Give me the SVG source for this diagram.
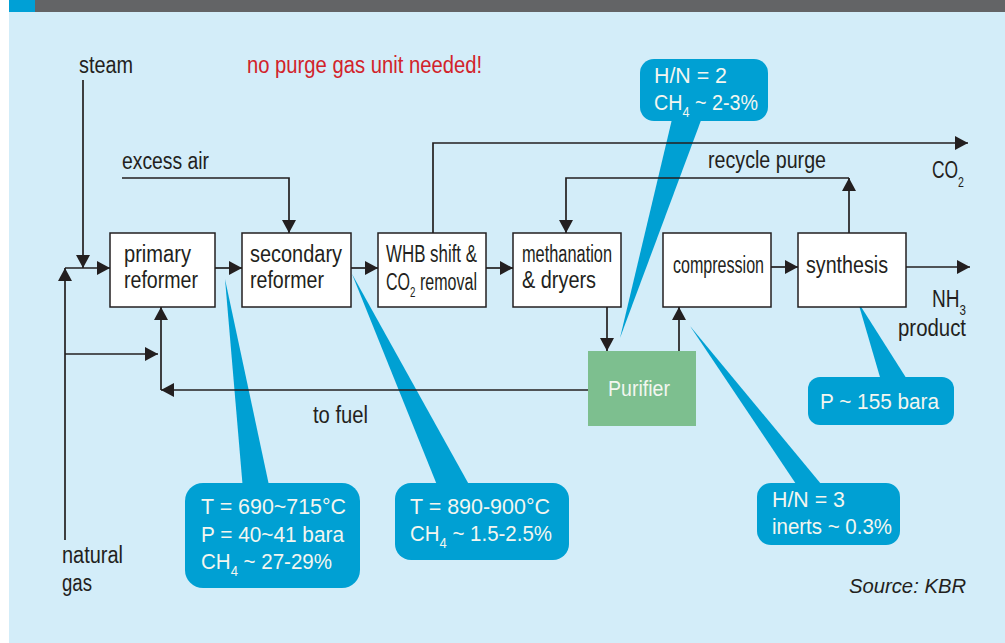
<svg xmlns="http://www.w3.org/2000/svg" width="1005" height="643" viewBox="0 0 1005 643">
<defs>
<style>
.lbl{font-family:"Liberation Sans",Arial,sans-serif;font-size:23px;fill:#231f20}
.box{fill:#ffffff;stroke:#231f20;stroke-width:1.5}
.co{fill:#00a0d3}
.ct{font-family:"Liberation Sans",Arial,sans-serif;font-size:22px;fill:#f3f6f0}
.sub{font-size:14px}
.edge{fill:none;stroke:#231f20;stroke-width:1.7;marker-end:url(#ah)}
</style>
<marker id="ah" markerUnits="userSpaceOnUse" markerWidth="14" markerHeight="14" refX="13" refY="7" orient="auto">
<path d="M0,0 L13,7 L0,14 z" fill="#231f20"/>
</marker>
</defs>

<g id="background">
<rect x="0" y="0" width="1005" height="643" fill="#ffffff"/>
<rect x="9" y="0" width="996" height="643" fill="#d3edf9"/>
<rect x="35" y="0" width="970" height="12" fill="#636466"/>
<rect x="9" y="0" width="26" height="12" fill="#00a0d6"/>
</g>

<g id="callouts">
<g id="callout-hn2">
<polygon class="co" points="673,115 703,115 620,338"/>
<rect class="co" x="640" y="59" width="128" height="62" rx="14"/>
<text class="ct" x="654" y="83" textLength="73" lengthAdjust="spacingAndGlyphs">H/N = 2</text>
<text class="ct" x="654" y="110" textLength="104" lengthAdjust="spacingAndGlyphs">CH<tspan class="sub" dy="7">4</tspan><tspan dy="-7"> ~ 2-3%</tspan></text>
</g>
<g id="callout-primary">
<polygon class="co" points="243,490 270,490 225,279"/>
<rect class="co" x="185" y="483" width="175" height="105" rx="18"/>
<text class="ct" x="201" y="514" textLength="145" lengthAdjust="spacingAndGlyphs">T = 690~715°C</text>
<text class="ct" x="201" y="542" textLength="143" lengthAdjust="spacingAndGlyphs">P = 40~41 bara</text>
<text class="ct" x="201" y="569" textLength="131" lengthAdjust="spacingAndGlyphs">CH<tspan class="sub" dy="7">4</tspan><tspan dy="-7"> ~ 27-29%</tspan></text>
</g>
<g id="callout-secondary">
<polygon class="co" points="439,490 472,490 352,274"/>
<rect class="co" x="395" y="483" width="174" height="77" rx="16"/>
<text class="ct" x="410" y="514" textLength="140" lengthAdjust="spacingAndGlyphs">T = 890-900°C</text>
<text class="ct" x="410" y="541" textLength="142" lengthAdjust="spacingAndGlyphs">CH<tspan class="sub" dy="7">4</tspan><tspan dy="-7"> ~ 1.5-2.5%</tspan></text>
</g>
<g id="callout-hn3">
<polygon class="co" points="800,490 826,490 690,326"/>
<rect class="co" x="757" y="483" width="143" height="62" rx="14"/>
<text class="ct" x="772" y="507" textLength="73" lengthAdjust="spacingAndGlyphs">H/N = 3</text>
<text class="ct" x="772" y="534" textLength="120" lengthAdjust="spacingAndGlyphs">inerts ~ 0.3%</text>
</g>
<g id="callout-synthesis">
<polygon class="co" points="882,384 910,384 858,302"/>
<rect class="co" x="808" y="377" width="146" height="48" rx="12"/>
<text class="ct" x="820" y="409" textLength="119" lengthAdjust="spacingAndGlyphs">P ~ 155 bara</text>
</g>
</g>

<g id="connectors">
<path class="edge" d="M83,80 V268"/>
<path class="edge" d="M65,540 V268"/>
<path class="edge" d="M65,268 H110"/>
<path class="edge" d="M65,354 H158"/>
<path class="edge" d="M161,390 V307"/>
<path class="edge" d="M588,390 H161"/>
<path class="edge" d="M122,178 H289 V233"/>
<path class="edge" d="M215,268 H242"/>
<path class="edge" d="M351,268 H378"/>
<path class="edge" d="M486,268 H513"/>
<path class="edge" d="M433,233 V143 H968"/>
<path class="edge" d="M849,233 V178"/>
<path class="edge" d="M849,178 H566 V233"/>
<path class="edge" d="M607,307 V351"/>
<path class="edge" d="M679,351 V307"/>
<path class="edge" d="M771,267 H798"/>
<path class="edge" d="M906,267 H970"/>
</g>

<g id="labels">
<text class="lbl" x="79" y="73" textLength="54" lengthAdjust="spacingAndGlyphs">steam</text>
<text class="lbl" x="247" y="73" textLength="235" lengthAdjust="spacingAndGlyphs" style="fill:#d2232a">no purge gas unit needed!</text>
<text class="lbl" x="122" y="169" textLength="87" lengthAdjust="spacingAndGlyphs">excess air</text>
<text class="lbl" x="708" y="168" textLength="118" lengthAdjust="spacingAndGlyphs">recycle purge</text>
<text class="lbl" x="932" y="178" textLength="32" lengthAdjust="spacingAndGlyphs">CO<tspan class="sub" dy="9">2</tspan></text>
<text class="lbl" x="932" y="307" textLength="34" lengthAdjust="spacingAndGlyphs">NH<tspan class="sub" dy="8">3</tspan></text>
<text class="lbl" x="898" y="336" textLength="68" lengthAdjust="spacingAndGlyphs">product</text>
<text class="lbl" x="313" y="423" textLength="55" lengthAdjust="spacingAndGlyphs">to fuel</text>
<text class="lbl" x="62" y="563" textLength="61" lengthAdjust="spacingAndGlyphs">natural</text>
<text class="lbl" x="62" y="591" textLength="30" lengthAdjust="spacingAndGlyphs">gas</text>
<text class="lbl" x="849" y="593" textLength="117" lengthAdjust="spacingAndGlyphs" style="font-style:italic;font-size:21px">Source: KBR</text>
</g>

<g id="primary-reformer">
<rect class="box" x="110" y="233" width="105" height="74"/>
<text class="lbl" x="124" y="262" textLength="67" lengthAdjust="spacingAndGlyphs">primary</text>
<text class="lbl" x="124" y="288" textLength="74" lengthAdjust="spacingAndGlyphs">reformer</text>
</g>
<g id="secondary-reformer">
<rect class="box" x="242" y="233" width="109" height="74"/>
<text class="lbl" x="250" y="262" textLength="92" lengthAdjust="spacingAndGlyphs">secondary</text>
<text class="lbl" x="250" y="288" textLength="74" lengthAdjust="spacingAndGlyphs">reformer</text>
</g>
<g id="whb-shift">
<rect class="box" x="378" y="233" width="108" height="74"/>
<text class="lbl" x="386" y="262" textLength="91" lengthAdjust="spacingAndGlyphs">WHB shift &amp;</text>
<text class="lbl" x="386" y="290" textLength="91" lengthAdjust="spacingAndGlyphs">CO<tspan class="sub" dy="7">2</tspan><tspan dy="-7"> removal</tspan></text>
</g>
<g id="methanation">
<rect class="box" x="513" y="233" width="108" height="74"/>
<text class="lbl" x="522" y="262" textLength="90" lengthAdjust="spacingAndGlyphs">methanation</text>
<text class="lbl" x="522" y="288" textLength="74" lengthAdjust="spacingAndGlyphs">&amp; dryers</text>
</g>
<g id="compression">
<rect class="box" x="663" y="233" width="108" height="74"/>
<text class="lbl" x="673" y="273" textLength="91" lengthAdjust="spacingAndGlyphs">compression</text>
</g>
<g id="synthesis">
<rect class="box" x="798" y="233" width="108" height="74"/>
<text class="lbl" x="806" y="273" textLength="82" lengthAdjust="spacingAndGlyphs">synthesis</text>
</g>
<g id="purifier">
<rect x="588" y="351" width="108" height="75" fill="#7dbf8f"/>
<text class="ct" x="608" y="396" textLength="62" lengthAdjust="spacingAndGlyphs">Purifier</text>
</g>
</svg>
